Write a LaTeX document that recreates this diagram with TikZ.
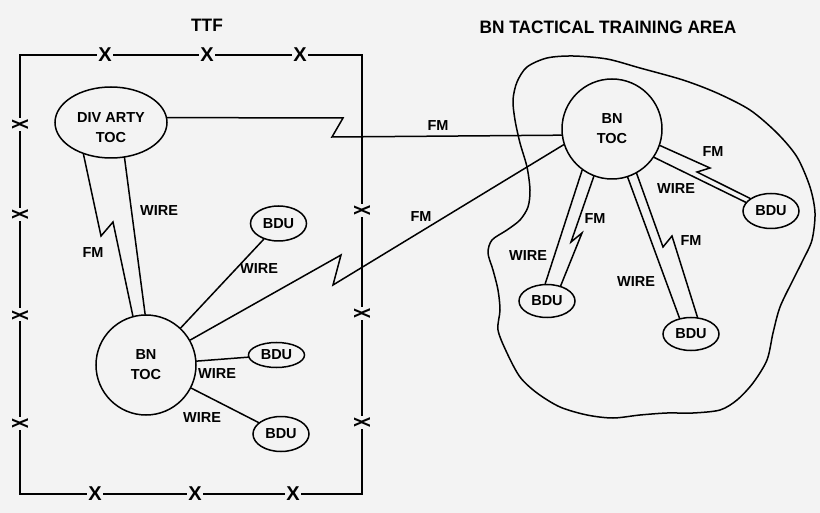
\documentclass[tikz,border=0pt]{standalone}
\usepackage{fontspec}
\setmainfont{Liberation Sans}
\newfontfamily\labfont{Liberation Sans}
\newfontfamily\ttlfont[FakeStretch=0.96]{Liberation Sans}
\usetikzlibrary{shapes.geometric}
\definecolor{paper}{HTML}{F3F3F3}
\begin{document}
\begin{tikzpicture}[x=1pt,y=-1pt,
  conn/.style={line width=1.5pt, line join=miter, line cap=round},
  shp/.style={draw, line width=1.5pt, inner sep=0pt},
  lab/.style={font=\labfont\bfseries\fontsize{14.5}{20}\selectfont, inner sep=0pt, align=center},
  bdu/.style={shp, ellipse, minimum width=56pt, minimum height=35pt, lab},
  toc/.style={shp, circle, minimum size=100pt, lab},
  ttl/.style={font=\ttlfont\bfseries\fontsize{18}{20}\selectfont, inner sep=0pt},
  xmk/.style={font=\labfont\bfseries\fontsize{20}{20}\selectfont, fill=paper, inner sep=1.5pt},
  sxmk/.style={fill=paper, inner sep=1.5pt},
]
\useasboundingbox (0,0) rectangle (820,513);
\fill[paper] (0,0) rectangle (820,513);

% titles
\node[ttl] (ttf) at (207,25) {TTF};
\node[ttl] (area) at (608,27) {BN TACTICAL TRAINING AREA};

% TTF border with cut marks
\draw[conn, line cap=butt] (20,55) rectangle (362,494);
\node[xmk] (xt1) at (105,55) {X};
\node[xmk] (xt2) at (207,55) {X};
\node[xmk] (xt3) at (300,55) {X};
\node[xmk] (xb1) at (95,494) {X};
\node[xmk] (xb2) at (195,494) {X};
\node[xmk] (xb3) at (293,494) {X};
\node[sxmk] (xl1) at (20,125) {\labfont\bfseries\rotatebox{90}{\resizebox{10pt}{16pt}{X}}};
\node[sxmk] (xl2) at (20,215) {\labfont\bfseries\rotatebox{90}{\resizebox{10pt}{16pt}{X}}};
\node[sxmk] (xl3) at (20,315) {\labfont\bfseries\rotatebox{90}{\resizebox{10pt}{16pt}{X}}};
\node[sxmk] (xl4) at (20,423) {\labfont\bfseries\rotatebox{90}{\resizebox{10pt}{16pt}{X}}};
\node[sxmk] (xr1) at (362,211) {\labfont\bfseries\rotatebox{90}{\resizebox{10pt}{16pt}{X}}};
\node[sxmk] (xr2) at (362,314) {\labfont\bfseries\rotatebox{90}{\resizebox{10pt}{16pt}{X}}};
\node[sxmk] (xr3) at (362,422) {\labfont\bfseries\rotatebox{90}{\resizebox{10pt}{16pt}{X}}};

% training area outline
\draw[line width=1.5pt] plot[smooth cycle, tension=0.5] coordinates {
 (515,120) (513,100) (517,82) (527,67) (547,58) (573,56) (607,59) (640,68)
 (683,80) (717,93) (750,110) (777,133) (797,157) (810,187) (815,213) (812,240)
 (803,260) (793,280) (780,307) (773,333) (767,360) (753,383) (737,400) (720,410)
 (693,413) (667,413) (640,415) (613,418) (587,415) (560,407) (537,393) (520,377)
 (507,353) (498,330) (500,310) (498,290) (493,270) (488,253) (492,240) (507,230)
 (520,220) (528,207) (530,190) (527,167) (520,143)};

% nodes
\node[shp, ellipse, minimum width=112pt, minimum height=71pt] (divarty) at (111,122.5) {};
\node[lab] (divartyt) at (111,128) {DIV ARTY\\TOC};
\node[toc] (btocL) at (146,365) {BN\\TOC};
\node[toc] (btocR) at (612,129) {BN\\TOC};
\node[bdu] (bduA) at (278.5,223.5) {BDU};
\node[bdu, minimum height=25pt] (bduB) at (276.5,355) {BDU};
\node[bdu] (bduC) at (281,434) {BDU};
\node[bdu] (bduR) at (771,211) {BDU};
\node[bdu, minimum height=33pt] (bduLL) at (547,301) {BDU};
\node[bdu, minimum height=33pt] (bduLR) at (691,334) {BDU};

% zigzag points
\coordinate (z1a) at (343,118); \coordinate (z1b) at (332,137);
\coordinate (z2a) at (341,255); \coordinate (z2b) at (333,285);
\coordinate (z3a) at (101,236); \coordinate (z3b) at (113,222);
\coordinate (z4a) at (710,168); \coordinate (z4b) at (697,172);
\coordinate (z5a) at (571,242); \coordinate (z5b) at (582,233);
\coordinate (z6a) at (663,247); \coordinate (z6b) at (672,236);

% connectors
\draw[conn] (divarty.5) -- (z1a) -- (z1b) -- (btocR.187);
\draw[conn] (btocL) -- (z2a) -- (z2b) -- (btocR.198);
\draw[conn] (divarty.229) -- (z3a) -- (z3b) -- (btocL.105);
\draw[conn] (divarty.291) -- (btocL.91);
\draw[conn] (btocL) -- (bduA);
\draw[conn] (btocL) -- (bduB);
\draw[conn] (btocL) -- (bduC);
\draw[conn] (btocR.341) -- (z4a) -- (z4b) -- (bduR.149);
\draw[conn] (btocR.326) -- (bduR.161);
\draw[conn] (btocR.249) -- (z5a) -- (z5b) -- (bduLL.48);
\draw[conn] (btocR.234.5) -- (bduLL.96);
\draw[conn] (btocR.299) -- (z6a) -- (z6b) -- (bduLR.69);
\draw[conn] (btocR.288) -- (bduLR.126);

% connector labels
\node[lab] (f1) at (438,126) {FM};
\node[lab] (f2) at (421,217) {FM};
\node[lab] (w1) at (159,211) {WIRE};
\node[lab] (f3) at (93,253) {FM};
\node[lab] (w2) at (259,269) {WIRE};
\node[lab] (w3) at (217,374) {WIRE};
\node[lab] (w4) at (202,418) {WIRE};
\node[lab] (f4) at (713,152) {FM};
\node[lab] (w5) at (676,189) {WIRE};
\node[lab] (f5) at (595,219) {FM};
\node[lab] (w6) at (528,256) {WIRE};
\node[lab] (f6) at (691,241) {FM};
\node[lab] (w7) at (636,282) {WIRE};
\end{tikzpicture}
\end{document}
